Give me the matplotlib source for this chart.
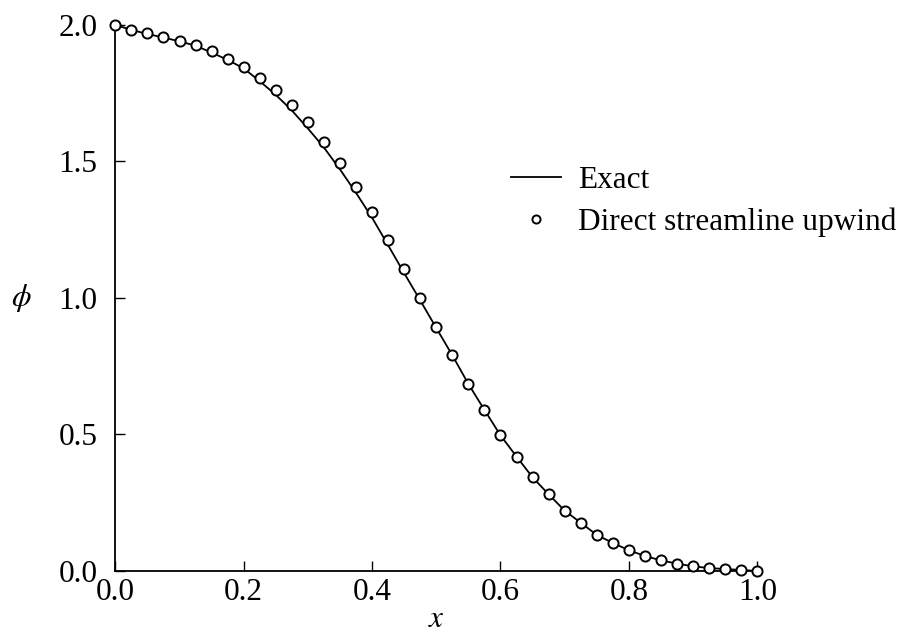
"""
phi(x) along the centre line: exact solution vs direct streamline upwind scheme.
"""

import matplotlib
matplotlib.use("Agg")
import matplotlib.pyplot as plt
from matplotlib.ticker import MultipleLocator

plt.rcParams["font.family"] = ["Liberation Serif", "DejaVu Serif"]
plt.rcParams["mathtext.fontset"] = "stix"

# x positions of the nodes
x = [0.000, 0.025, 0.050, 0.075, 0.100, 0.125, 0.150, 0.175, 0.200, 0.225,
     0.250, 0.275, 0.300, 0.325, 0.350, 0.375, 0.400, 0.425, 0.450, 0.475,
     0.500, 0.525, 0.550, 0.575, 0.600, 0.625, 0.650, 0.675, 0.700, 0.725,
     0.750, 0.775, 0.800, 0.825, 0.850, 0.875, 0.900, 0.925, 0.950, 0.975,
     1.000]

# exact solution
phi_exact = [2.000, 1.982, 1.967, 1.954, 1.940, 1.924, 1.899, 1.872, 1.841, 1.794,
             1.744, 1.687, 1.621, 1.551, 1.471, 1.385, 1.294, 1.193, 1.091, 0.991,
             0.890, 0.790, 0.685, 0.590, 0.497, 0.419, 0.343, 0.281, 0.221, 0.177,
             0.132, 0.103, 0.076, 0.055, 0.039, 0.027, 0.017, 0.011, 0.007, 0.004,
             0.000]

# direct streamline upwind (circles)
phi_dsu = [2.000, 1.983, 1.969, 1.956, 1.943, 1.926, 1.903, 1.877, 1.846, 1.806,
           1.762, 1.707, 1.643, 1.573, 1.493, 1.407, 1.314, 1.211, 1.106, 1.001,
           0.893, 0.790, 0.685, 0.590, 0.497, 0.419, 0.343, 0.281, 0.221, 0.177,
           0.132, 0.103, 0.076, 0.055, 0.039, 0.027, 0.017, 0.011, 0.007, 0.004,
           0.000]

FS = 22.5

fig = plt.figure(figsize=(9.08, 6.37), dpi=100)
ax = fig.add_axes([0.127, 0.1036, 0.707, 0.8572])

ax.plot(x, phi_exact, color="black", lw=1.3, label="Exact", zorder=2)
ax.plot(x, phi_dsu, ls="none", marker="o", ms=7.3, mfc="white", mec="black",
        mew=1.4, label="Direct streamline upwind", zorder=3, clip_on=False)

ax.set_xlim(0, 1.0)
ax.set_ylim(0, 2.0)
ax.xaxis.set_major_locator(MultipleLocator(0.2))
ax.yaxis.set_major_locator(MultipleLocator(0.5))
ax.xaxis.set_major_formatter(plt.FuncFormatter(lambda v, p: f"{v:.1f}"))
ax.yaxis.set_major_formatter(plt.FuncFormatter(lambda v, p: f"{v:.1f}"))

for side in ("top", "right"):
    ax.spines[side].set_visible(False)
for side in ("left", "bottom"):
    ax.spines[side].set_linewidth(1.3)

ax.tick_params(axis="x", direction="in", length=7, width=1.0, labelsize=FS, pad=5)
ax.tick_params(axis="y", direction="in", length=7, width=1.0, labelsize=FS, pad=13)

ax.set_xlabel("$x$", fontsize=FS, va="center")
ax.xaxis.set_label_coords(0.5, -0.088)
ax.set_ylabel(r"$\phi$", fontsize=FS, rotation=0, va="center", ha="center")
ax.yaxis.set_label_coords(-0.147, 0.5)

ax.legend(loc="upper left", bbox_to_anchor=(0.563, 0.74),
          bbox_transform=fig.transFigure, frameon=False, fontsize=FS,
          borderpad=0, borderaxespad=0, handlelength=1.6, handletextpad=0.55,
          labelspacing=0.42, markerscale=0.8)

fig.savefig("out.png", dpi=100)
